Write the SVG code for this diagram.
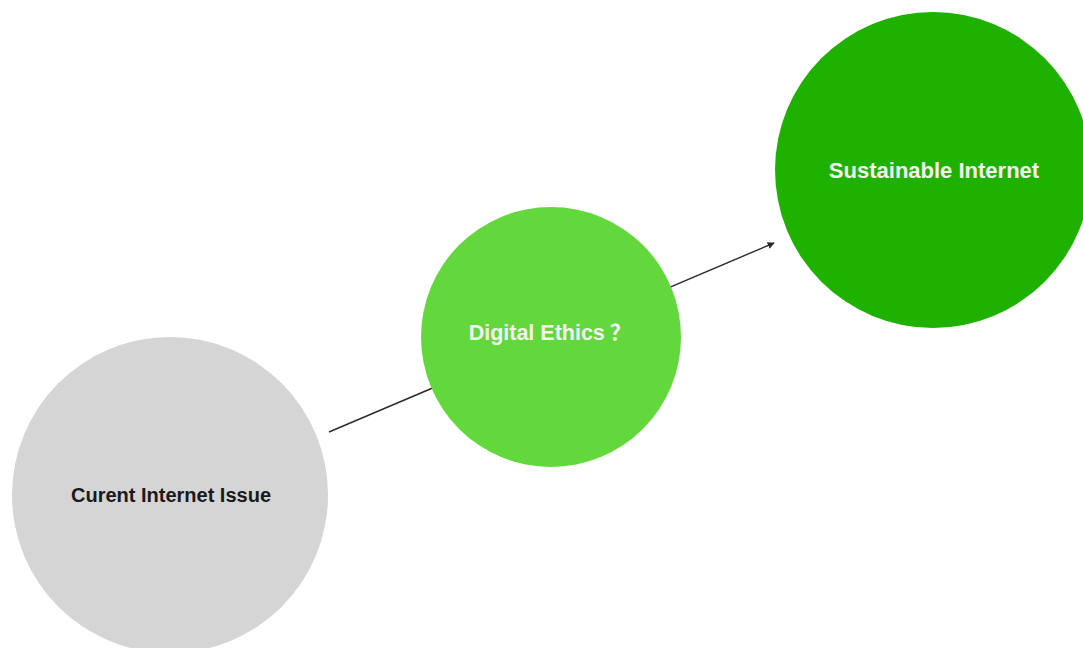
<svg xmlns="http://www.w3.org/2000/svg" width="1083" height="648" viewBox="0 0 1083 648">
  <style>
    .lbl { font-family: "Liberation Sans", Arial, "Noto Sans CJK SC", sans-serif; font-weight: bold; text-anchor: middle; }
    .cjk { font-family: "Noto Sans CJK SC", "Noto Sans CJK JP", sans-serif; }
    .light { fill: #f4f4f4; }
    .dark { fill: #1a1a1a; }
    .conn { stroke: #2a2a2a; stroke-width: 1.4; fill: none; }
  </style>
  <defs>
    <marker id="arrow" viewBox="0 0 10 10" refX="9" refY="5" markerWidth="5" markerHeight="5" orient="auto" markerUnits="strokeWidth">
      <path d="M0,0 L10,5 L0,10 z" fill="#2a2a2a"/>
    </marker>
  </defs>
  <rect width="1083" height="648" fill="#ffffff"/>
  <g id="connectors">
    <line class="conn" x1="329" y1="432" x2="774" y2="243" marker-end="url(#arrow)"/>
  </g>
  <g id="node-current">
    <circle cx="170" cy="495" r="158" fill="#d5d5d5"/>
    <text class="lbl dark" x="171" y="502" font-size="20">Curent Internet Issue</text>
  </g>
  <g id="node-ethics">
    <circle cx="551" cy="337" r="130" fill="#62d83c"/>
    <text class="lbl light" x="550" y="340" font-size="21.5">Digital Ethics<tspan class="cjk" dx="5">？</tspan></text>
  </g>
  <g id="node-sustainable">
    <circle cx="933" cy="170" r="158" fill="#1fb100"/>
    <text class="lbl light" x="934" y="178" font-size="22">Sustainable Internet</text>
  </g>
</svg>
